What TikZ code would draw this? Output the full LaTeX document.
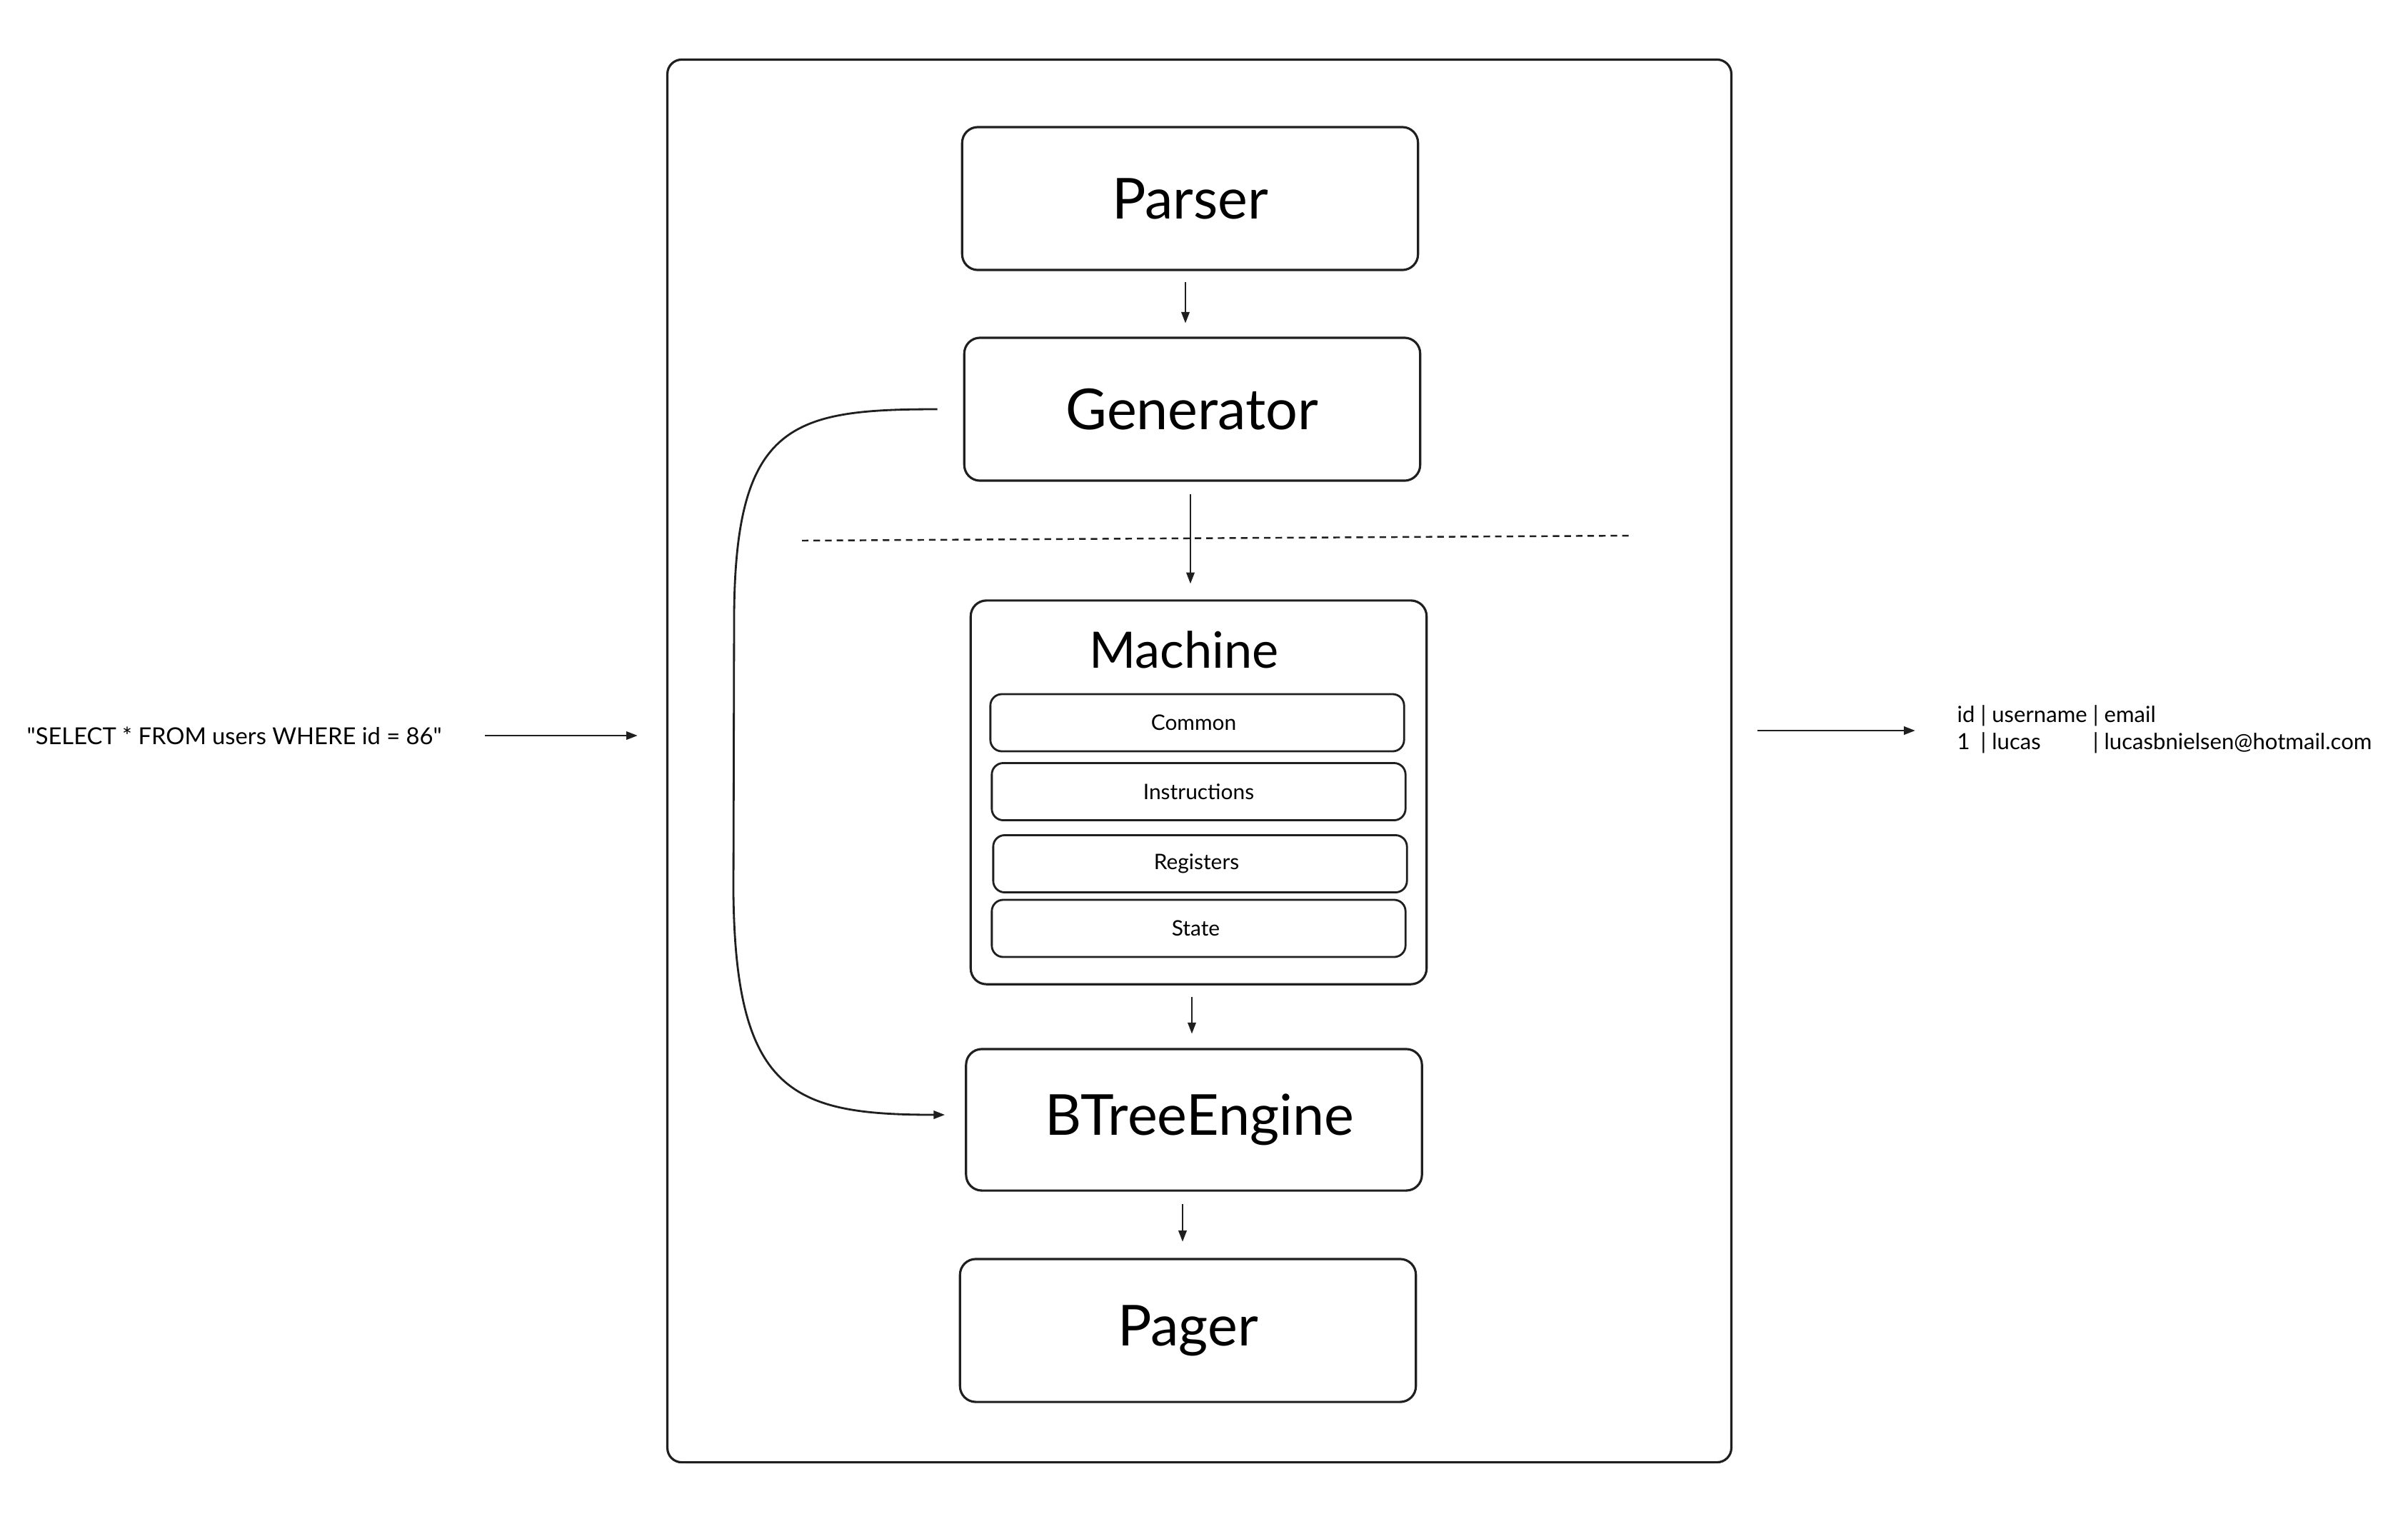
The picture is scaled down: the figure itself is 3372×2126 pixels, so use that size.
\documentclass[tikz,border=0pt]{standalone}
\usepackage{fontspec}
\setmainfont{Lato}
\usetikzlibrary{arrows.meta,calc}

\tikzset{
  stage/.style={draw=black!88, line width=0.9pt, rounded corners=0.22cm,
    minimum width=6.38cm, minimum height=2.0cm, inner sep=0pt,
    font=\fontsize{22.5}{25}\selectfont},
  part/.style={draw=black!88, line width=0.8pt, rounded corners=0.16cm,
    minimum width=5.79cm, minimum height=0.8cm, inner sep=0pt,
    font=\fontsize{8.5}{10}\selectfont},
  frame/.style={draw=black!88, line width=0.9pt, rounded corners=0.2cm, inner sep=0pt},
  arr/.style={draw=black!88, line width=0.8pt, -{Triangle[length=4.5pt,width=3.2pt]}},
  plain/.style={inner sep=0pt},
}

\begin{document}
\begin{tikzpicture}[x=0.01cm, y=-0.01cm]
  \useasboundingbox (0,0) rectangle (3372,2126);

  % outer container
  \node[frame, minimum width=14.89cm, minimum height=19.63cm] (frame) at (1679.5,1065.5) {};

  % pipeline stages
  \node[stage] (parser) at (1666.5,278) {Parser};
  \node[stage] (gen) at (1669.5,573) {Generator};
  \node[stage, minimum height=5.37cm] (machine) at (1678.5,1109.5) {};
  \node[font=\fontsize{20}{23}\selectfont, inner sep=0pt] (mtitle) at (1658,910) {Machine};
  \node[part] (common) at (1676.5,1012) {\hspace*{-0.1cm}Common};
  \node[part] (instr) at (1678.5,1108.5) {Instructions};
  \node[part] (regs) at (1680.5,1209.5) {\hspace*{-0.1cm}Registers};
  \node[part] (state) at (1678.5,1300) {\hspace*{-0.08cm}State};
  \node[stage, minimum height=1.98cm] (btree) at (1672,1568) {\hspace*{0.16cm}BTreeEngine};
  \node[stage] (pager) at (1663.5,1863) {Pager};

  % boundary between front end and back end
  \coordinate (divL) at (1123,757);
  \coordinate (divR) at (2286,750);
  \draw[black!88, line width=0.7pt, dash pattern=on 2.6pt off 2pt] (divL) -- (divR);

  % stage arrows
  \draw[arr, shorten <=4.5pt, shorten >=5.3pt] ([xshift=-0.065cm]parser.south) -- ([xshift=-0.065cm]parser.south |- gen.north);
  \draw[arr, shorten <=4.8pt, shorten >=6.2pt] ([xshift=-0.025cm]gen.south) -- ([xshift=-0.025cm]gen.south |- machine.north);
  \draw[arr, shorten <=4.6pt, shorten >=5.6pt] ([xshift=-0.095cm]machine.south) -- ([xshift=-0.095cm]machine.south |- btree.north);
  \draw[arr, shorten <=4.8pt, shorten >=6.4pt] ([xshift=-0.16cm]btree.south) -- ([xshift=-0.16cm]btree.south |- pager.north);

  % bypass from generator to the storage engine
  \draw[arr] ($(gen.west)+(-36,0)$) .. controls (1110,573) and (1030,592) .. (1028,860)
     -- (1027,1250) .. controls (1030,1530) and (1110,1561) .. ($(btree.west)+(-28,-7)$);

  % query in, rows out
  \node[plain, anchor=west, font=\fontsize{9.3}{11}\selectfont] (sql) at (37,1030)
    {\textquotedbl SELECT * FROM users WHERE id = 86\textquotedbl};
  \draw[arr, shorten <=17pt, shorten >=11.4pt] (sql.east) -- (sql.east -| frame.west);

  \node[plain, anchor=west, font=\fontsize{8.85}{10.6}\selectfont] (result) at (2740,1023) {%
    \begin{tabular}{@{}l@{\ }l@{\ }l@{\ }l@{\ }l@{}}
      id & | & username & | & email\\
      1 & | & lucas & | & lucasbnielsen@hotmail.com
    \end{tabular}};
  \draw[arr, shorten <=10pt, shorten >=16.5pt] (frame.east |- result.west) -- (result.west);
\end{tikzpicture}
\end{document}
